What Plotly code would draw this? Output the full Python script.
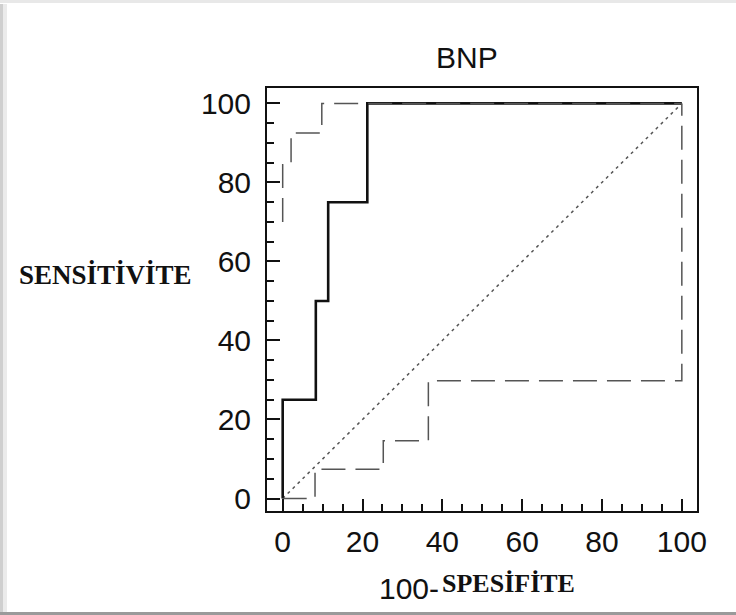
import plotly.graph_objects as go

# ROC curve (solid) and 95% confidence bounds (dashed)
roc_x = [0, 0, 8.3, 8.3, 11.4, 11.4, 21.2, 21.2, 100]
roc_y = [0, 25, 25, 50, 50, 75, 75, 100, 100]
upper_x = [0, 0, 2.1, 2.1, 9.8, 9.8, 100]
upper_y = [70, 84.5, 84.5, 92.5, 92.5, 100, 100]
lower_x = [0, 8.1, 8.1, 25.2, 25.2, 36.5, 36.5, 100, 100]
lower_y = [0, 0, 7.4, 7.4, 14.6, 14.6, 29.8, 29.8, 100]
diag_x = [0, 100]
diag_y = [0, 100]
tick_vals = [0, 20, 40, 60, 80, 100]
tick_text = ["0", "20", "40", "60", "80", "100"]

W, H = 736, 615
L, R, T, B = 267, 697, 88, 511


def px(x):
    return (x - L) / (R - L)


def py(y):
    return (B - y) / (B - T)


fig = go.Figure()
fig.add_trace(go.Scatter(x=diag_x, y=diag_y, mode="lines",
                         line=dict(color="#555555", width=1.5, dash="3px,4px"),
                         hoverinfo="skip", showlegend=False))
fig.add_trace(go.Scatter(x=roc_x, y=roc_y, mode="lines",
                         line=dict(color="#111111", width=2.6),
                         showlegend=False))
fig.add_trace(go.Scatter(x=upper_x, y=upper_y, mode="lines",
                         line=dict(color="#555555", width=1.5, dash="24px,10px"),
                         showlegend=False))
fig.add_trace(go.Scatter(x=lower_x, y=lower_y, mode="lines",
                         line=dict(color="#555555", width=1.5, dash="24px,10px"),
                         showlegend=False))

axis_common = dict(
    showgrid=False, zeroline=False,
    showline=True, mirror=True, linecolor="#111111", linewidth=2,
    ticks="inside", tickwidth=2, tickcolor="#111111",
    tickvals=tick_vals, ticktext=tick_text,
    tickfont=dict(family="Liberation Sans, Arial", size=30, color="#111111"),
    minor=dict(ticks="inside", dtick=5, ticklen=7, tickwidth=1.5, tickcolor="#111111", showgrid=False),
)

fig.update_layout(
    width=W, height=H,
    margin=dict(l=L, r=W - R, t=T, b=H - B),
    paper_bgcolor="white", plot_bgcolor="white",
    xaxis=dict(range=[-3.93, 103.8], ticklen=12, ticklabelstandoff=3, **axis_common),
    yaxis=dict(range=[-3.16, 103.9], ticklen=13, ticklabelstandoff=8, **axis_common),
    annotations=[
        dict(text="BNP", x=px(467), y=py(57), xref="paper", yref="paper",
             xanchor="center", yanchor="middle", showarrow=False,
             font=dict(family="Liberation Sans, Arial", size=30, color="#111111")),
        dict(text="SENSİTİVİTE", x=px(17), y=py(275), xref="paper", yref="paper",
             xanchor="left", yanchor="middle", showarrow=False,
             font=dict(family="Liberation Serif, Times New Roman", size=27, color="#111111", weight="bold")),
        dict(text="100-", x=px(441), y=py(588), xref="paper", yref="paper",
             xanchor="right", yanchor="middle", showarrow=False,
             font=dict(family="Liberation Sans, Arial", size=30, color="#111111")),
        dict(text="SPESİFİTE", x=px(440), y=py(583), xref="paper", yref="paper",
             xanchor="left", yanchor="middle", showarrow=False,
             font=dict(family="Liberation Serif, Times New Roman", size=26, color="#111111", weight="bold")),
    ],
    shapes=[
        dict(type="rect", xref="paper", yref="paper", x0=px(0), x1=px(3), y0=py(612), y1=py(4),
             fillcolor="#cfcfcf", line=dict(width=0), layer="below"),
        dict(type="rect", xref="paper", yref="paper", x0=px(3), x1=px(7), y0=py(612), y1=py(4),
             fillcolor="#ebebeb", line=dict(width=0), layer="below"),
        dict(type="rect", xref="paper", yref="paper", x0=px(0), x1=px(736), y0=py(3), y1=py(0),
             fillcolor="#e8e8e8", line=dict(width=0), layer="below"),
        dict(type="rect", xref="paper", yref="paper", x0=px(0), x1=px(736), y0=py(615), y1=py(612),
             fillcolor="#9a9a9a", line=dict(width=0), layer="below"),
    ],
)

fig.write_html("out.html")
